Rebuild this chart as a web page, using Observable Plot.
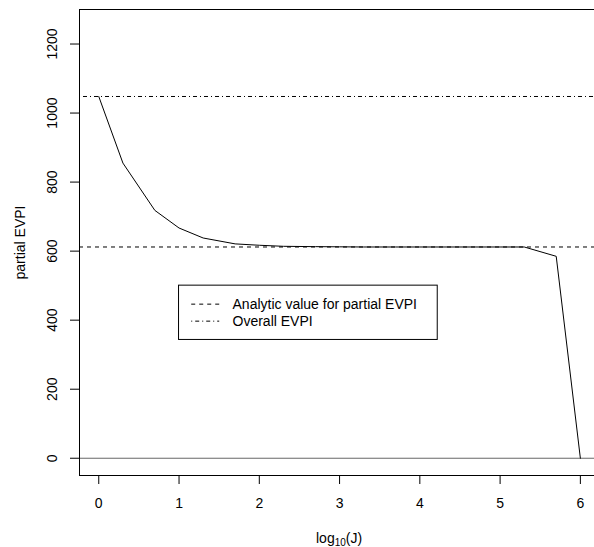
<!DOCTYPE html>
<html><head><meta charset="utf-8">
<script src="https://cdn.jsdelivr.net/npm/d3@7"></script>
<script src="https://cdn.jsdelivr.net/npm/@observablehq/plot@0.6"></script>
<style>
body{margin:0;background:#fff;}
#chart svg{font-family:"Liberation Sans",Arial,Helvetica,sans-serif;}
</style>
</head><body><div id="chart"></div>
<script>
// ---- data ----
const logJ = [0, 0.301, 0.699, 1, 1.301, 1.699, 2, 2.301, 2.699, 3, 3.301, 3.699, 4, 4.301, 4.699, 5, 5.301, 5.699, 6];
const evpi = [1048, 855, 718, 667, 638, 621, 617, 614, 613, 612.5, 612, 612, 612, 612, 612, 612, 612, 585, 0];
const analyticEVPI = 612;
const overallEVPI = 1048;
const xTicks = [0, 1, 2, 3, 4, 5, 6];
const yTicks = [0, 200, 400, 600, 800, 1000, 1200];
const legendLabels = ["Analytic value for partial EVPI", "Overall EVPI"];
const legendDash = ["4,4", "1,3,4,3"];
const legendAnchor = {x: 1, y: 500};
const yTitle = "partial EVPI";
const xTitleParts = ["log", "10", "(J)"];
const xLim = [0, 6];
const yLim = [0, 1250];

const yExt = (yLim[1] - yLim[0]) * 0.04;
const yDomain = [yLim[0] - yExt, yLim[1] + yExt];
const xExt = (xLim[1] - xLim[0]) * 0.04;
const xDomain = [xLim[0] - xExt, 6.176]; // plot region extends past the right edge of the picture

const data = logJ.map((x, i) => ({x, y: evpi[i]}));

const plot = Plot.plot({
  width: 594, height: 547,
  marginLeft: 79, marginRight: 0, marginTop: 9, marginBottom: 72,
  style: {fontFamily: '"Liberation Sans", Arial, sans-serif', fontSize: "14px", background: "white", color: "black"},
  x: {domain: xDomain},
  y: {domain: yDomain},
  marks: [
    Plot.ruleY([0], {stroke: "#666", strokeWidth: 1}),
    Plot.ruleY([analyticEVPI], {stroke: "black", strokeDasharray: "4,4"}),
    Plot.ruleY([overallEVPI], {stroke: "black", strokeDasharray: "1,3,4,3"}),
    Plot.line(data, {x: "x", y: "y", stroke: "black", strokeWidth: 1}),
    Plot.ruleY(yDomain, {stroke: "black"}),
    Plot.ruleX([xDomain[0]], {stroke: "black"}),
    Plot.axisX(xTicks, {tickSize: 9, tickPadding: 14, label: null, fontSize: 14}),
    Plot.axisY(yTicks, {tickSize: 9, tickFormat: () => "", label: null}),
    Plot.text(yTicks, {y: d => d, text: d => String(d), frameAnchor: "left", dx: -26.5, rotate: -90,
      textAnchor: "middle", lineAnchor: "middle", fontSize: 14, fill: "black"}),
    Plot.text([yTitle], {frameAnchor: "left", dx: -59, rotate: -90, textAnchor: "middle",
      lineAnchor: "middle", fontSize: 14, fill: "black"})
  ]
});
document.getElementById("chart").appendChild(plot);

const svg = d3.select(plot);
const sx = plot.scale("x"), sy = plot.scale("y");

// x-axis title with subscript
const xt = svg.append("text")
  .attr("x", sx.apply(3)).attr("y", 543)
  .attr("text-anchor", "middle").attr("font-size", 14).attr("fill", "black");
xt.append("tspan").text(xTitleParts[0]);
xt.append("tspan").attr("font-size", 10).attr("dy", 3).text(xTitleParts[1]);
xt.append("tspan").attr("dy", -3).text(xTitleParts[2]);

// legend box
const lx = sx.apply(legendAnchor.x), ly = sy.apply(legendAnchor.y);
const lg = svg.append("g");
lg.append("rect").attr("x", lx).attr("y", ly).attr("width", 258.7).attr("height", 54.3)
  .attr("fill", "white").attr("stroke", "black");
legendLabels.forEach((lab, i) => {
  const cy = ly + 19 + i * 17;
  lg.append("line").attr("x1", lx + 12.7).attr("x2", lx + 40.7).attr("y1", cy).attr("y2", cy)
    .attr("stroke", "black").attr("stroke-dasharray", legendDash[i]);
  lg.append("text").attr("x", lx + 54).attr("y", cy).attr("dy", "0.35em")
    .attr("text-anchor", "start")
    .attr("font-size", 14).attr("fill", "black").text(lab);
});
</script>
</body></html>
